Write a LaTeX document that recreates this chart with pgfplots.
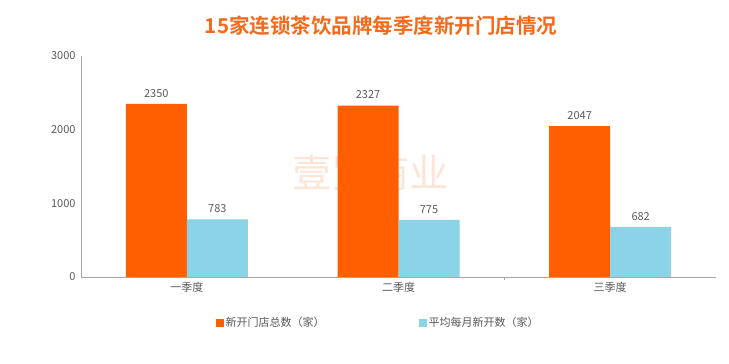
\documentclass[border=0pt]{standalone}
\usepackage{pgfplots}
\pgfplotsset{compat=1.18}
\usepackage{fontspec}
\setmainfont{Noto Sans CJK SC}
\newfontfamily\titlefont{Noto Sans CJK SC}[BoldFont={* Bold}]
\definecolor{barorange}{HTML}{FF5F00}
\definecolor{barblue}{HTML}{8BD3E7}
\definecolor{titleorange}{HTML}{F26A1B}
\definecolor{txtgray}{HTML}{595959}
\definecolor{axgray}{HTML}{A6A6A6}
\begin{document}
\begin{tikzpicture}[x=1pt,y=1pt]
\useasboundingbox (0,0) rectangle (729,364);
\node[text=titleorange!30, font=\fontsize{39}{39}\selectfont, opacity=0.6] at (370,191) {壹览商业};
\node[text=titleorange, font=\titlefont\bfseries\fontsize{20.5}{20.5}\selectfont] at (381,338) {15家连锁茶饮品牌每季度新开门店情况};
\begin{axis}[
  at={(81pt,87pt)}, anchor=south west,
  scale only axis, width=635pt, height=221pt,
  ybar, bar width=61pt, bar shift auto,
  ybar=0pt,
  xmin=-0.5, xmax=2.5, ymin=0, ymax=3000,
  xtick={0,1,2}, xticklabels={一季度,二季度,三季度},
  extra x ticks={1.5}, extra x tick labels={},
  extra x tick style={major tick length=3pt, tick style={axgray}},
  ytick={0,1000,2000,3000},
  major tick length=0pt,
  axis x line*=bottom, axis y line*=left,
  axis line style={axgray, line width=0.8pt},
  tick label style={text=txtgray, font=\fontsize{11}{11}\selectfont},
  /pgf/number format/assume math mode=true,
  /pgf/number format/1000 sep={},
  yticklabel style={xshift=-2pt},
  xticklabel style={yshift=-2pt},
  nodes near coords,
  nodes near coords style={text=txtgray, font=\fontsize{11}{11}\selectfont, yshift=3pt, /pgf/number format/1000 sep={}},
  legend style={at={(0.468,-0.208)}, anchor=center, draw=none, font=\fontsize{11}{11}\selectfont, text=txtgray,
    legend columns=2, /tikz/every even column/.append style={column sep=92pt}},
  legend image code/.code={\fill[#1] (0pt,-4pt) rectangle (8pt,4pt);},
]
\addplot[fill=barorange, draw=none] coordinates {(0,2350) (1,2327) (2,2047)};
\addplot[fill=barblue, draw=none] coordinates {(0,783) (1,775) (2,682)};
\legend{新开门店总数（家）, 平均每月新开数（家）}
\end{axis}
\end{tikzpicture}
\end{document}
